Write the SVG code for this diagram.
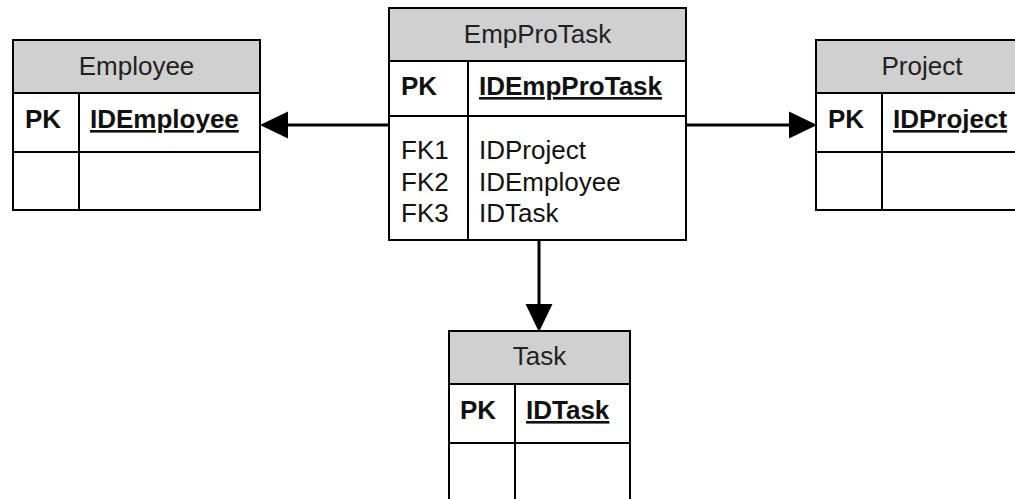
<svg xmlns="http://www.w3.org/2000/svg" width="1015" height="499" viewBox="0 0 1015 499">
<defs>
<style>
.box{fill:#fff;stroke:#000;stroke-width:2}
.hdr{fill:#d0d0d0;stroke:#000;stroke-width:2}
.ln{stroke:#000;stroke-width:2;fill:none}
.t{font-family:"Liberation Sans",Arial,sans-serif;font-size:26px;fill:#111}
.h{text-anchor:middle;fill:#222}
.b{font-weight:bold}
.u{font-weight:bold;text-decoration:underline}
.con{stroke:#000;stroke-width:3;fill:none}
</style>
<marker id="ah" markerUnits="userSpaceOnUse" markerWidth="28" markerHeight="28" viewBox="0 0 27 26" refX="0" refY="13" orient="auto">
<path d="M0,0 L27,13 L0,26 z" fill="#000"/>
</marker>
</defs>
<rect width="1015" height="499" fill="#fff"/>
<g id="connectors">
<line class="con" x1="389" y1="125" x2="288" y2="125" marker-end="url(#ah)"/>
<line class="con" x1="686" y1="125" x2="789" y2="125" marker-end="url(#ah)"/>
<line class="con" x1="539" y1="240" x2="539" y2="304" marker-end="url(#ah)"/>
</g>
<g id="employee">
<rect class="box" x="13" y="40" width="247" height="170"/>
<rect class="hdr" x="13" y="40" width="247" height="53"/>
<line class="ln" x1="13" y1="152" x2="260" y2="152"/>
<line class="ln" x1="79" y1="93" x2="79" y2="210"/>
<text class="t h" x="136.5" y="75">Employee</text>
<text class="t b" x="25" y="128">PK</text>
<text class="t u" x="90" y="128">IDEmployee</text>
</g>
<g id="empprotask">
<rect class="box" x="389" y="8" width="297" height="232"/>
<rect class="hdr" x="389" y="8" width="297" height="53"/>
<line class="ln" x1="389" y1="116" x2="686" y2="116"/>
<line class="ln" x1="468" y1="61" x2="468" y2="240"/>
<text class="t h" x="537.5" y="43">EmpProTask</text>
<text class="t b" x="401" y="95">PK</text>
<text class="t u" x="479" y="95">IDEmpProTask</text>
<text class="t" x="401" y="159">FK1</text>
<text class="t" x="401" y="191">FK2</text>
<text class="t" x="401" y="222">FK3</text>
<text class="t" x="479" y="159">IDProject</text>
<text class="t" x="479" y="191">IDEmployee</text>
<text class="t" x="479" y="222">IDTask</text>
</g>
<g id="project">
<rect class="box" x="816" y="40" width="212" height="170"/>
<rect class="hdr" x="816" y="40" width="212" height="53"/>
<line class="ln" x1="816" y1="152" x2="1028" y2="152"/>
<line class="ln" x1="882" y1="93" x2="882" y2="210"/>
<text class="t h" x="922" y="75">Project</text>
<text class="t b" x="828" y="128">PK</text>
<text class="t u" x="893" y="128">IDProject</text>
</g>
<g id="task">
<rect class="box" x="449" y="331" width="181" height="180"/>
<rect class="hdr" x="449" y="331" width="181" height="53"/>
<line class="ln" x1="449" y1="443" x2="630" y2="443"/>
<line class="ln" x1="515" y1="384" x2="515" y2="511"/>
<text class="t h" x="539.5" y="365">Task</text>
<text class="t b" x="460" y="419">PK</text>
<text class="t u" x="526" y="419">IDTask</text>
</g>
</svg>
